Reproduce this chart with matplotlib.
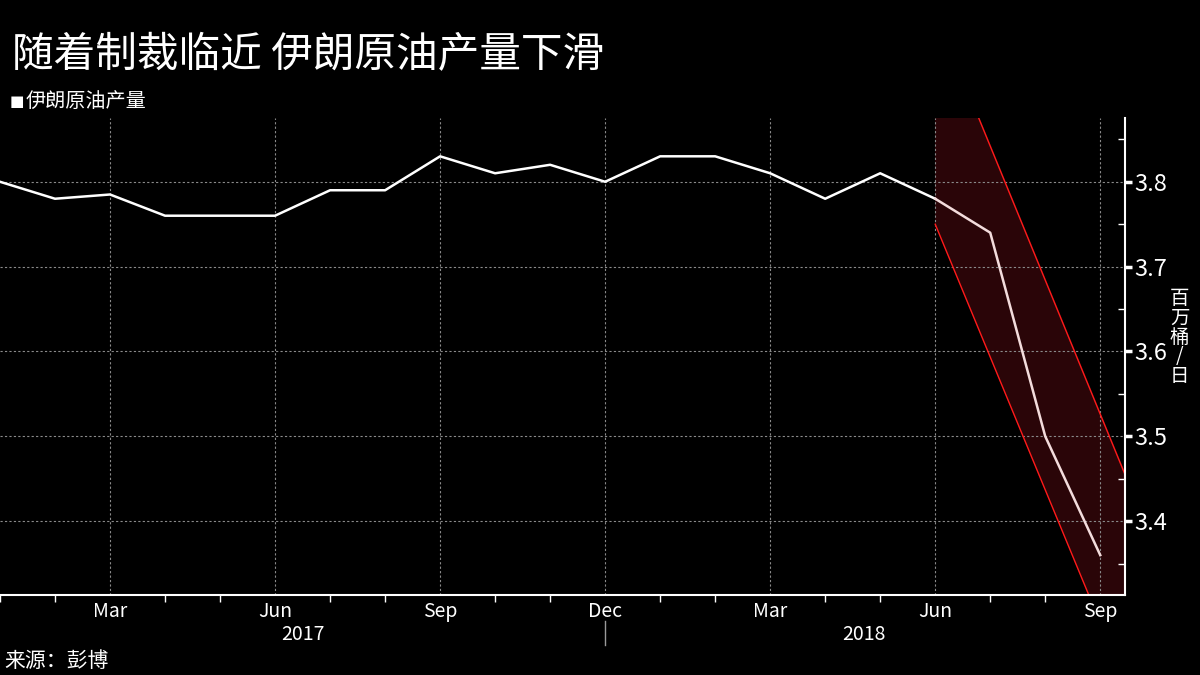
import matplotlib.pyplot as plt
from matplotlib.ticker import FixedLocator

plt.rcParams['font.family'] = ['Noto Sans CJK SC', 'DejaVu Sans']

# month index 0 = Jan 2017
months = list(range(21))
output = [3.80, 3.78, 3.785, 3.76, 3.76, 3.76, 3.79, 3.79, 3.83, 3.81, 3.82, 3.80,
          3.83, 3.83, 3.81, 3.78, 3.81, 3.78, 3.74, 3.50, 3.36]
tick_pos = [2, 5, 8, 11, 14, 17, 20]
tick_labels = ['Mar', 'Jun', 'Sep', 'Dec', 'Mar', 'Jun', 'Sep']
years = ['2017', '2018']
year_pos = [5.5, 15.7]

# forecast band (start at Jun 2018, end at right edge of chart)
band_x = [17, 20.45]
band_upper = [4.00, 3.455]
band_lower = [3.75, 3.21]

title = '随着制裁临近 伊朗原油产量下滑'
series_name = '伊朗原油产量'
unit = '百万桶/日'
source = '来源：彭博'

fig = plt.figure(figsize=(12, 6.75), dpi=100, facecolor='black')
ax = fig.add_axes([0, 0.1185, 0.9375, 0.7065], facecolor='black')

ax.plot(months[:18], output[:18], color='white', lw=1.8, zorder=3)
ax.plot(months[17:], output[17:], color='#f3dcdc', lw=1.8, zorder=3)
ax.fill_between(band_x, band_lower, band_upper, color='#2a0508', zorder=1)
ax.plot(band_x, band_upper, color='#ff1a1a', lw=1, zorder=2)
ax.plot(band_x, band_lower, color='#ff1a1a', lw=1, zorder=2)

ax.set_xlim(0, 20.45)
ax.set_ylim(3.313, 3.875)

ax.set_xticks(tick_pos)
ax.set_xticklabels(tick_labels)
ax.xaxis.set_minor_locator(FixedLocator(months))
ax.tick_params(axis='x', which='major', length=0, pad=4, labelsize=14, colors='white')
ax.tick_params(axis='x', which='minor', length=5, width=1, direction='out', color='white')

ax.yaxis.tick_right()
ax.set_yticks([3.4, 3.5, 3.6, 3.7, 3.8])
ax.set_yticklabels(['3.4', '3.5', '3.6', '3.7', '3.8'])
ax.yaxis.set_minor_locator(FixedLocator([3.35, 3.45, 3.55, 3.65, 3.75, 3.85]))
ax.tick_params(axis='y', which='major', length=5, width=2.5, direction='out',
               labelsize=17, colors='white', pad=2)
ax.tick_params(axis='y', which='minor', length=5, width=1, direction='in', color='white')

ax.grid(True, which='major', color='#8a8a8a', linestyle=(0, (2, 2)), lw=0.8)
for s in ['top', 'left']:
    ax.spines[s].set_visible(False)
for s in ['bottom', 'right']:
    ax.spines[s].set_color('white')
    ax.spines[s].set_linewidth(1.5)

for yr, xp in zip(years, year_pos):
    ax.text(xp, -0.06, yr, transform=ax.get_xaxis_transform(), ha='center', va='top',
            color='white', fontsize=14, clip_on=False)
ax.plot([11, 11], [-0.055, -0.105], transform=ax.get_xaxis_transform(),
        color='#9a9a9a', lw=1, clip_on=False)

fig.text(0.01, 0.918, title, color='white', fontsize=30, va='center', ha='left')
fig.text(0.008, 0.85, '\u25A0', color='white', fontsize=11, va='center', ha='left',
         family=['DejaVu Sans'])
fig.text(0.021, 0.85, series_name, color='white', fontsize=14.5, va='center', ha='left')
fig.text(0.983, 0.50, '\n'.join(unit), color='white', fontsize=14, va='center',
         ha='center', linespacing=0.9)
fig.text(0.004, 0.005, source, color='white', fontsize=15, va='bottom', ha='left')

fig.savefig('out.png', dpi=100, facecolor='black')
